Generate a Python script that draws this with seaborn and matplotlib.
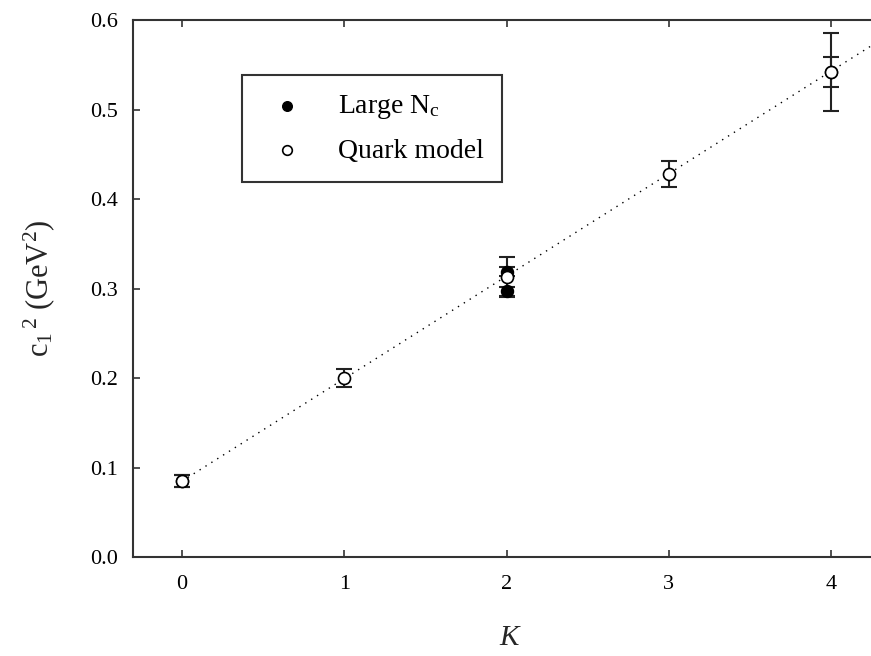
import numpy as np
import pandas as pd
import seaborn as sns
import matplotlib.pyplot as plt

# values
k_quark = [0, 1, 2, 3, 4]
c_quark = [0.085, 0.200, 0.313, 0.428, 0.542]
err_quark = [0.007, 0.010, 0.022, 0.014, 0.017]

k_large = [0, 2, 2, 4]
c_large = [0.085, 0.297, 0.319, 0.542]
err_large = [0.007, 0.005, 0.005, 0.044]

# dotted linear trend
k_fit = [0.0, 4.35]
c_fit = [0.085, 0.583]

x_ticks = [0, 1, 2, 3, 4]
y_ticks = [0.0, 0.1, 0.2, 0.3, 0.4, 0.5, 0.6]

sns.set_style("ticks")
plt.rcParams['font.family'] = ['Liberation Serif', 'DejaVu Serif']
plt.rcParams['mathtext.fontset'] = 'custom'
plt.rcParams['mathtext.rm'] = 'Liberation Serif'
plt.rcParams['mathtext.it'] = 'Liberation Serif:italic'
plt.rcParams['text.color'] = 'black'

df_quark = pd.DataFrame({'K': k_quark, 'c': c_quark, 'err': err_quark})
df_large = pd.DataFrame({'K': k_large, 'c': c_large, 'err': err_large})
df_fit = pd.DataFrame({'K': k_fit, 'c': c_fit})

fig = plt.figure(figsize=(8.71, 6.56), dpi=100)
ax = fig.add_axes([0.153, 0.1505, 0.8665, 0.819])

sns.lineplot(data=df_fit, x='K', y='c', ax=ax, color='black', lw=1.0,
             linestyle=(0, (1, 4)), zorder=1)

# error bars
ax.errorbar(df_large['K'], df_large['c'], yerr=df_large['err'], fmt='none',
            ecolor='#222222', elinewidth=1.5, capsize=6, capthick=1.5, zorder=2)
ax.errorbar(df_quark['K'], df_quark['c'], yerr=df_quark['err'], fmt='none',
            ecolor='#222222', elinewidth=1.5, capsize=6, capthick=1.5, zorder=2)

sns.scatterplot(data=df_large, x='K', y='c', ax=ax, marker='o', s=75,
                color='black', edgecolor='black', linewidth=1, zorder=3,
                label='Large N$_\\mathrm{c}$')
sns.scatterplot(data=df_quark, x='K', y='c', ax=ax, marker='o', s=75,
                color='white', edgecolor='black', linewidth=1.2, zorder=4,
                label='Quark model')

ax.set_xlim(-0.3, 4.35)
ax.set_ylim(0.0, 0.6)
ax.set_xticks(x_ticks)
ax.set_yticks(y_ticks)
ax.set_yticklabels([f'{v:.1f}' for v in y_ticks])
ax.tick_params(direction='in', length=5, width=1.2, labelsize=16,
               color='#333333', labelcolor='black', top=True)
ax.tick_params(axis='y', pad=11)
ax.tick_params(axis='x', pad=13)
for sp in ax.spines.values():
    sp.set_linewidth(1.5)
    sp.set_color('#333333')
    sp.set_visible(True)

ax.set_xlabel('$\\mathit{K}$', fontsize=21, labelpad=22)
ax.set_ylabel('c$_1$$^{\\,2}$ (GeV$^2$)', fontsize=22, labelpad=24)

leg = ax.legend(loc='upper left', bbox_to_anchor=(0.144, 0.8976), fontsize=20,
                frameon=True, fancybox=False, edgecolor='black',
                markerscale=0.8, handletextpad=0.87, borderpad=0.65,
                labelspacing=0.62, borderaxespad=0, handlelength=1.93)
leg.get_frame().set_linewidth(1.5)

fig.savefig('out.png', dpi=100)
